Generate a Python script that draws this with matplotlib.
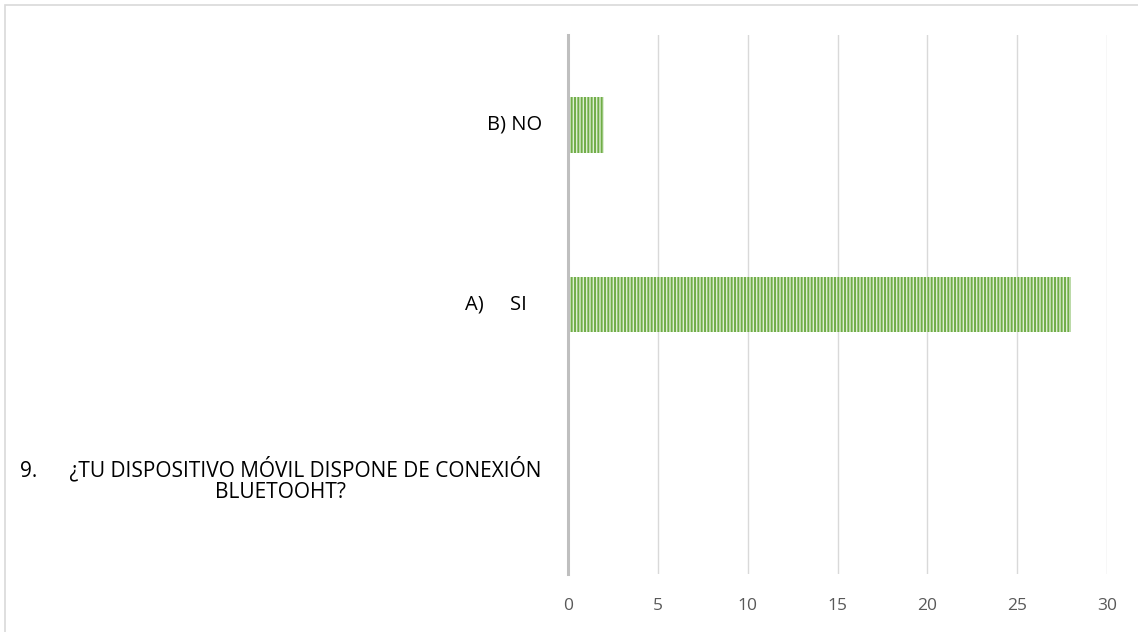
import matplotlib
matplotlib.use("Agg")
import matplotlib.pyplot as plt
from matplotlib.patches import Rectangle
from matplotlib.transforms import ScaledTranslation

categories = ["9.      ¿TU DISPOSITIVO MÓVIL DISPONE DE CONEXIÓN\nBLUETOOHT?", "A)     SI", "B) NO"]
values = [0, 28, 2]
xticks = [0, 5, 10, 15, 20, 25, 30]

plt.rcParams['font.family'] = ['Open Sans', 'DejaVu Sans']
plt.rcParams['hatch.linewidth'] = 1.4

DPI = 100
fig = plt.figure(figsize=(11.38, 6.32), dpi=DPI)
fig.patches.append(Rectangle((5/1138, -0.01), 1.02, 1 - 5/632 + 0.01, transform=fig.transFigure,
                             fill=False, edgecolor='#D9D9D9', linewidth=1.2))
ax = fig.add_axes([568/1138, 58/632, 539/1138, 539/632])

pos = list(range(len(categories)))
ax.barh(pos, values, height=0.31, color='#DDEED3', edgecolor='#70AD47',
        hatch='|||||', linewidth=0)

ax.set_xlim(0, 30)
ax.set_ylim(-0.5, 2.5)
ax.set_xticks(xticks)
ax.set_xticklabels([str(t) for t in xticks], fontsize=12.5, color='#595959')
ax.tick_params(axis='x', length=0, pad=17)
ax.set_yticks(pos)
ax.set_yticklabels([])
ax.tick_params(axis='y', length=0)

# category labels: (right-edge offset from axis in px, vertical offset in px, fontsize)
label_style = [(-27, 5, 15), (-41, 0, 14.5), (-26, 0, 14.5)]
base = ax.get_yaxis_transform()
for p, lab, (dx, dy, fs) in zip(pos, categories, label_style):
    tr = base + ScaledTranslation(dx / DPI, dy / DPI, fig.dpi_scale_trans)
    ax.text(0, p, lab, transform=tr, ha='right', va='center', multialignment='center',
            fontsize=fs, color='#000000', linespacing=1.05)

ax.grid(axis='x', color='#D9D9D9', linewidth=1)
ax.set_axisbelow(True)
for s in ['top', 'right', 'bottom']:
    ax.spines[s].set_visible(False)
ax.spines['left'].set_color('#BFBFBF')
ax.spines['left'].set_linewidth(2.2)
ax.spines['left'].set_zorder(5)

fig.savefig('out.png', dpi=DPI)
